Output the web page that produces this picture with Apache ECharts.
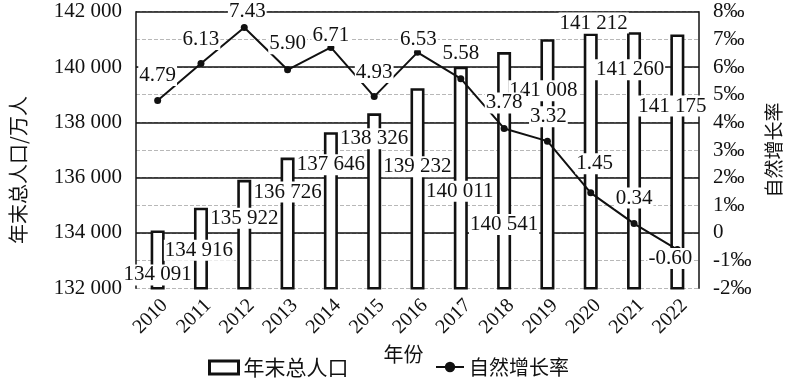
<!DOCTYPE html>
<html>
<head>
<meta charset="utf-8">
<script src="https://cdn.jsdelivr.net/npm/echarts@6/dist/echarts.min.js"></script>
<style>html,body{margin:0;padding:0;background:#fff}#c{width:791px;height:380px}</style>
</head>
<body>
<div id="c"></div>
<script>
// ---- data ----
const years = ['2010','2011','2012','2013','2014','2015','2016','2017','2018','2019','2020','2021','2022'];
const population = [134091,134916,135922,136726,137646,138326,139232,140011,140541,141008,141212,141260,141175];
const growthRate = [4.79,6.13,7.43,5.90,6.71,4.93,6.53,5.58,3.78,3.32,1.45,0.34,-0.60];
const popAxis = { min: 132000, max: 142000, interval: 2000 };
const rateAxis = { min: -2, max: 8, interval: 1 };
const seriesNames = ['年末总人口', '自然增长率'];

// ---- label layout (styling, not data) ----
const barLabelOffsets = [[0,60],[-2,58],[0,54],[0,50],[0,48],[0,41],[0,94],[-1,140],[0,188],[-4,67],[3,5],[-4,53],[-5,87]];
const lineLabelOffsets = [[0,-6],[0,-5],[3,3.5],[0,-7],[0,7],[0,-5],[1,6.5],[0,-6.5],[0,-6.5],[1,-5.5],[4,-10],[0,-6.5],[-7,28]];

const NUM_FONT = "'Liberation Serif', 'Times New Roman', serif";
const CJK_FONT = "'Noto Sans CJK SC', sans-serif";
const INK = '#111';

function fmtThousands(v) { return String(v).replace(/\B(?=(\d{3})+(?!\d))/g, ' '); }

const labelBase = {
  show: true, position: 'top', distance: 5,
  fontFamily: NUM_FONT, fontSize: 21, lineHeight: 21, color: INK,
  backgroundColor: '#fff', padding: [0, 1]
};

const barData = population.map((v, i) => ({
  value: v,
  label: Object.assign({}, labelBase, { offset: barLabelOffsets[i], formatter: fmtThousands(v) })
}));
const lineData = growthRate.map((v, i) => ({
  value: v,
  label: Object.assign({}, labelBase, { offset: lineLabelOffsets[i], formatter: v.toFixed(2) })
}));

const chart = echarts.init(document.getElementById('c'));
chart.setOption({
  animation: false,
  backgroundColor: '#fff',
  grid: { left: 124, right: 83, top: 11.7, bottom: 91.7 },
  legend: [
    { data: [{ name: seriesNames[0], icon: 'rect', itemStyle: { color: '#fff', borderColor: INK, borderWidth: 3 } }],
      left: 208, top: 357, padding: 0, itemWidth: 29, itemHeight: 13, itemGap: 0,
      textStyle: { fontFamily: CJK_FONT, fontSize: 21, color: INK } },
    { data: [seriesNames[1]], left: 435, top: 357, padding: 0, itemWidth: 28, itemHeight: 13, itemGap: 0,
      textStyle: { fontFamily: CJK_FONT, fontSize: 20, color: INK } }
  ],
  xAxis: {
    type: 'category', data: years, boundaryGap: true,
    axisLine: { show: false }, axisTick: { show: false },
    axisLabel: { rotate: 45, fontFamily: NUM_FONT, fontSize: 20, color: INK, margin: 7, verticalAlign: 'top', align: 'right' },
    name: '年份', nameLocation: 'middle', nameGap: 51,
    nameTextStyle: { fontFamily: CJK_FONT, fontSize: 20, color: INK, padding: [0, 28, 0, 0] }
  },
  yAxis: [
    {
      type: 'value', min: popAxis.min, max: popAxis.max, interval: popAxis.interval, z: 1,
      axisLine: { show: true, lineStyle: { color: INK, width: 1.5 } },
      axisTick: { show: false },
      axisLabel: { formatter: fmtThousands, fontFamily: NUM_FONT, fontSize: 21, color: INK, margin: 14 },
      splitLine: { show: true, lineStyle: { color: ['rgba(0,0,0,0)', INK, INK, INK, INK, INK], width: 1.6 } },
      name: '年末总人口/万人', nameLocation: 'middle', nameGap: 108, nameRotate: 90,
      nameTextStyle: { fontFamily: CJK_FONT, fontSize: 20, color: INK, padding: [0, 40, 0, 0] }
    },
    {
      type: 'value', min: rateAxis.min, max: rateAxis.max, interval: rateAxis.interval, z: 0,
      axisLine: { show: true, lineStyle: { color: INK, width: 1.5 } },
      axisTick: { show: false },
      axisLabel: { formatter: v => (v === 0 ? '0' : v + '‰'), fontFamily: NUM_FONT, fontSize: 21, color: INK, margin: 14 },
      splitLine: { show: true, lineStyle: { color: '#b8b8b8', type: 'dashed', width: 1 } },
      name: '自然增长率', nameLocation: 'middle', nameGap: 65, nameRotate: 90,
      nameTextStyle: { fontFamily: CJK_FONT, fontSize: 19, color: INK }
    }
  ],
  series: [
    {
      name: seriesNames[0], type: 'bar', yAxisIndex: 0, barWidth: 14, z: 2,
      itemStyle: { color: '#fff', borderColor: INK, borderWidth: 2.6 },
      data: barData
    },
    {
      name: seriesNames[1], type: 'line', yAxisIndex: 1, z: 4,
      symbol: 'circle', symbolSize: 7,
      lineStyle: { color: INK, width: 2 },
      itemStyle: { color: INK },
      data: lineData
    }
  ]
});
</script>
</body>
</html>
